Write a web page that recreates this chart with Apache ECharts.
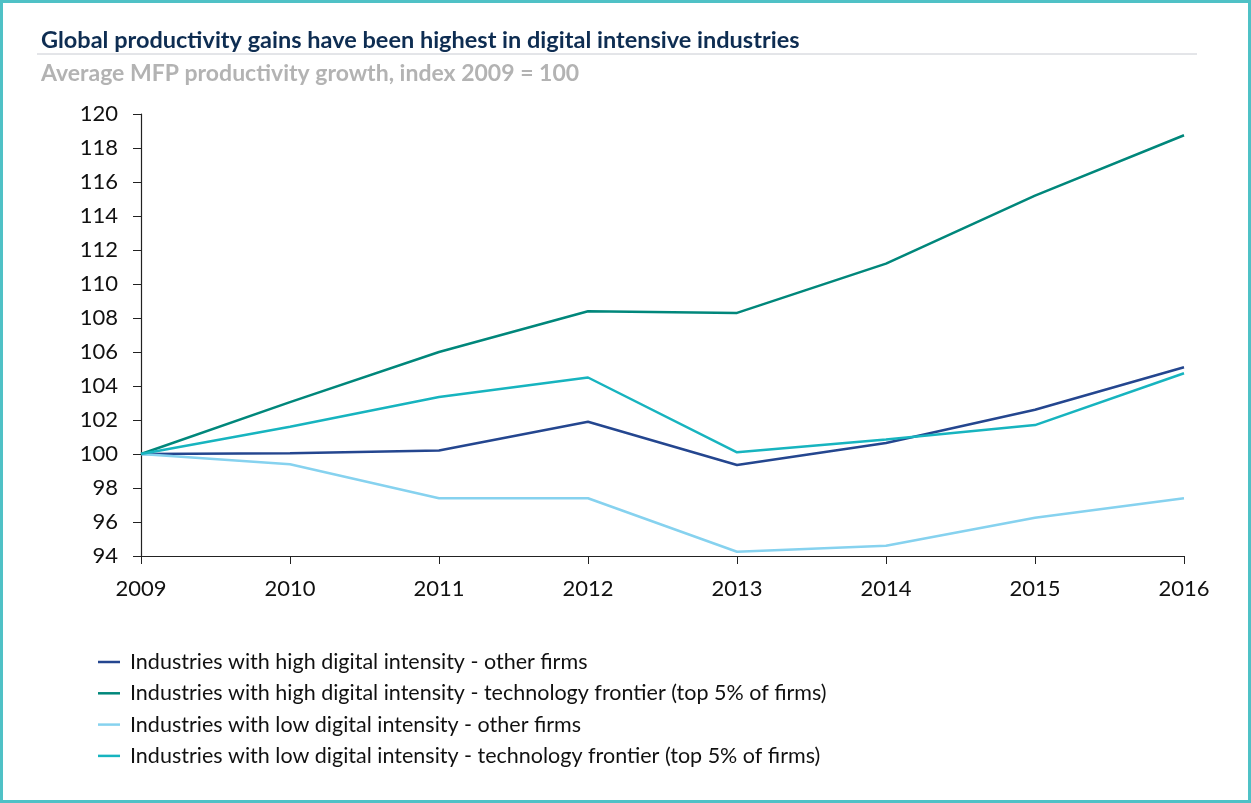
<!DOCTYPE html>
<html>
<head>
<meta charset="utf-8">
<script src="https://cdn.jsdelivr.net/npm/echarts@6/dist/echarts.min.js"></script>
<style>
html,body{margin:0;padding:0;background:#fff;}
#c{width:1251px;height:803px;}
</style>
</head>
<body>
<div id="c"></div>
<script>
const years = ['2009','2010','2011','2012','2013','2014','2015','2016'];
const seriesNames = [
  'Industries with high digital intensity - other firms',
  'Industries with high digital intensity - technology frontier (top 5% of firms)',
  'Industries with low digital intensity - other firms',
  'Industries with low digital intensity - technology frontier (top 5% of firms)'
];
const highOther    = [100, 100.05, 100.2, 101.9, 99.35, 100.65, 102.6, 105.1];
const highFrontier = [100, 103.05, 106.0, 108.4, 108.3, 111.2, 115.2, 118.75];
const lowOther     = [100, 99.4, 97.4, 97.4, 94.25, 94.6, 96.25, 97.4];
const lowFrontier  = [100, 101.6, 103.35, 104.5, 100.1, 100.85, 101.7, 104.75];
const colors = ['#24468f', '#00877b', '#86d2ef', '#17b4bf'];
const values = [highOther, highFrontier, lowOther, lowFrontier];

const font = 'Lato, "Open Sans", sans-serif';
const chart = echarts.init(document.getElementById('c'), null, {renderer: 'canvas'});
chart.setOption({
  backgroundColor: '#fff',
  animation: false,
  title: [
    {text: 'Global productivity gains have been highest in digital intensive industries',
     left: 36, top: 23,
     textStyle: {fontFamily: font, fontSize: 23.5, fontWeight: 'bold', color: '#0e2d52'}},
    {text: 'Average MFP productivity growth, index 2009 = 100',
     left: 36, top: 57,
     textStyle: {fontFamily: font, fontSize: 23, fontWeight: 'bold', color: '#b3b3b3'}}
  ],
  graphic: [
    {type: 'rect', shape: {x: 1.5, y: 1.5, width: 1248, height: 800},
     style: {fill: 'none', stroke: '#4fc1c6', lineWidth: 3}, silent: true},
    {type: 'line', shape: {x1: 37, y1: 54, x2: 1197, y2: 54},
     style: {stroke: '#c8cbd2', lineWidth: 1}, silent: true}
  ],
  grid: {left: 141, right: 67, top: 114, bottom: 247},
  legend: {
    orient: 'vertical', left: 93, top: 646,
    icon: 'rect', itemWidth: 22, itemHeight: 2.5, itemGap: 9.3,
    textStyle: {fontFamily: font, fontSize: 21.5, lineHeight: 22, color: '#111', padding: [0,0,0,5]},
    data: seriesNames
  },
  xAxis: {
    type: 'category', data: years, boundaryGap: false,
    axisLine: {lineStyle: {color: '#222', width: 1.2}},
    axisTick: {show: true, alignWithLabel: true, length: 8, lineStyle: {color: '#222'}},
    axisLabel: {fontFamily: font, fontSize: 22, color: '#111', margin: 22}
  },
  yAxis: {
    type: 'value', min: 94, max: 120, interval: 2,
    axisLine: {show: true, lineStyle: {color: '#222', width: 1.2}},
    axisTick: {show: true, length: 8, lineStyle: {color: '#222'}},
    axisLabel: {fontFamily: font, fontSize: 22, color: '#111', margin: 23},
    splitLine: {show: false}
  },
  series: seriesNames.map((n, i) => ({
    name: n, type: 'line', data: values[i],
    showSymbol: false, symbol: 'none',
    lineStyle: {color: colors[i], width: 2.5},
    itemStyle: {color: colors[i]}
  }))
});
</script>
</body>
</html>
